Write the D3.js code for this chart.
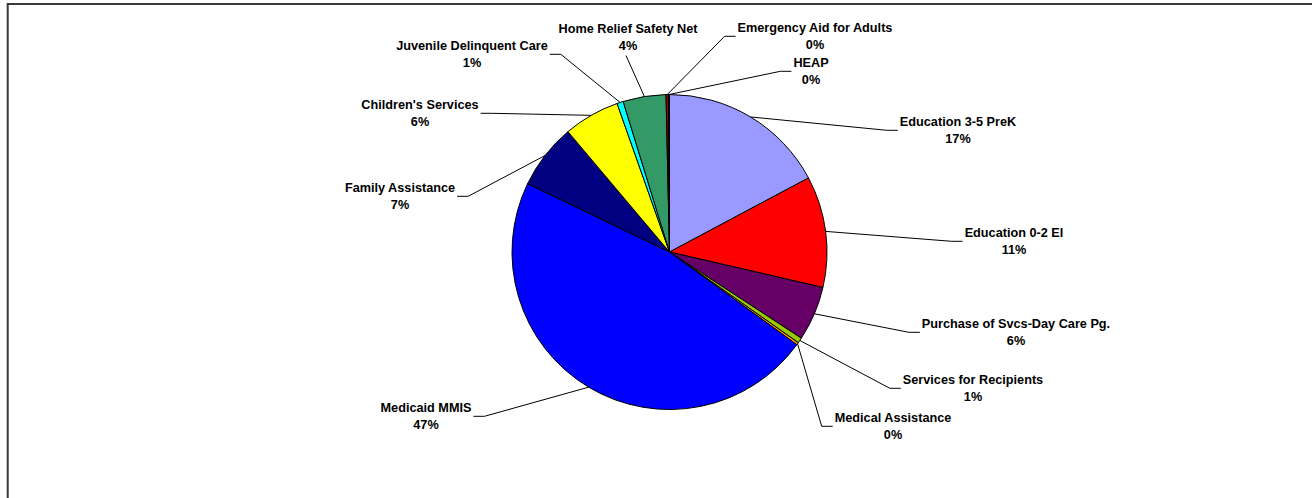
<!DOCTYPE html>
<html>
<head>
<meta charset="utf-8">
<script src="https://cdn.jsdelivr.net/npm/d3@7"></script>
<style>
  html, body { margin: 0; padding: 0; background: #ffffff; }
  svg { display: block; }
  .slice-label { font-family: "Liberation Sans", Arial, Helvetica, sans-serif; font-weight: bold; font-size: 12.7px; fill: #000; }
</style>
</head>
<body>
<svg id="chart" width="1312" height="498"></svg>
<script>
// Program spending by category, percent of total (clockwise from 12 o'clock)
const categories = [
  "Education 3-5 PreK",
  "Education 0-2 EI",
  "Purchase of Svcs-Day Care Pg.",
  "Services for Recipients",
  "Medical Assistance",
  "Medicaid MMIS",
  "Family Assistance",
  "Children's Services",
  "Juvenile Delinquent Care",
  "Home Relief Safety Net",
  "Emergency Aid for Adults",
  "HEAP"
];
const shares = [17.2, 11.4, 5.6, 0.55, 0.25, 47.1, 6.7, 5.75, 0.65, 4.4, 0.25, 0.1];

// Fill for each slice
const sliceColors = [
  "#9999FF", "#FF0000", "#660066", "#99CC00", "#FF9900", "#0000FF",
  "#000080", "#FFFF00", "#00FFFF", "#339966", "#990000", "#000000"
];

// Label placement: centre x and first-line y, plus the side the leader joins
const labelCenters = [
  [958, 122], [1014, 233], [1016, 324], [973, 380], [893, 418], [426, 408],
  [400, 188], [420, 105], [472, 46], [628, 29], [815, 28], [811, 63]
];
const leaderSides = [
  "left", "left", "left", "left", "left", "right",
  "right", "right", "right", "bottom", "left", "left"
];

const width = 1312, height = 498;
const cx = 669.5, cy = 252, radius = 157.5;
const lineGap = 16.5;

const svg = d3.select("#chart");

// Outer frame
svg.append("rect")
  .attr("x", 7.7).attr("y", 4)
  .attr("width", 1400).attr("height", 600)
  .attr("fill", "none")
  .attr("stroke", "#3a3a3a")
  .attr("stroke-width", 2);

const rows = categories.map((name, i) => ({ name, value: shares[i], color: sliceColors[i], i }));
const total = d3.sum(shares);

const pie = d3.pie().sort(null).value(d => d.value).startAngle(0).endAngle(2 * Math.PI);
const arcs = pie(rows);

const arc = d3.arc().innerRadius(0).outerRadius(radius);
const rimArc = d3.arc().innerRadius(radius).outerRadius(radius);

const g = svg.append("g").attr("transform", `translate(${cx},${cy})`);

g.selectAll("path.slice")
  .data(arcs)
  .join("path")
  .attr("class", "slice")
  .attr("d", arc)
  .attr("fill", d => d.data.color)
  .attr("stroke", "#000")
  .attr("stroke-width", 1)
  .attr("stroke-linejoin", "round");

const pct = d => Math.round(d.value / total * 100) + "%";

// Labels
const labelG = svg.append("g");
const labels = labelG.selectAll("g.lbl")
  .data(arcs)
  .join("g")
  .attr("class", "lbl");

labels.each(function (d) {
  const [lx, ly] = labelCenters[d.data.i];
  const sel = d3.select(this);
  const t1 = sel.append("text")
    .attr("class", "slice-label")
    .attr("x", lx).attr("y", ly)
    .attr("text-anchor", "middle")
    .attr("dominant-baseline", "central")
    .text(d.data.name);
  sel.append("text")
    .attr("class", "slice-label")
    .attr("x", lx).attr("y", ly + lineGap)
    .attr("text-anchor", "middle")
    .attr("dominant-baseline", "central")
    .text(pct(d.data));

  const w = t1.node().getComputedTextLength();
  const [ex, ey] = rimArc.centroid(d);
  const start = [cx + ex, cy + ey];
  const side = leaderSides[d.data.i];
  let pts;
  if (side === "left") {
    const ax = lx - w / 2 - 2, ay = ly + 8.3;
    pts = [start, [ax - 11, ay], [ax, ay]];
  } else if (side === "right") {
    const ax = lx + w / 2 + 2, ay = ly + 8.3;
    pts = [start, [ax + 11, ay], [ax, ay]];
  } else {
    pts = [start, [lx - 2, ly + lineGap + 10]];
  }
  labelG.append("path")
    .attr("d", d3.line()(pts))
    .attr("fill", "none")
    .attr("stroke", "#000")
    .attr("stroke-width", 1);
});
</script>
</body>
</html>
